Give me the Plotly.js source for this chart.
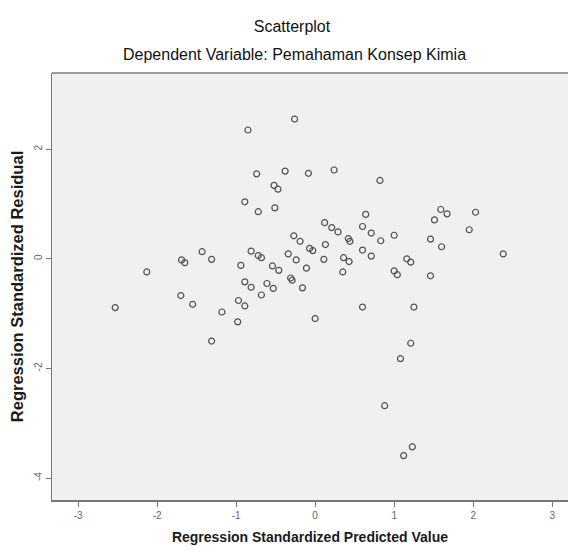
<!DOCTYPE html>
<html>
<head>
<meta charset="utf-8">
<script src="https://cdn.plot.ly/plotly-3.0.1.min.js"></script>
<style>html,body{margin:0;padding:0;background:#fff;}#chart{width:568px;height:552px;}</style>
</head>
<body>
<div id="chart"></div>
<script>
var predicted = [
 -0.26,-0.85,-0.74,-0.38,-0.085,-0.52,-0.47,-0.89,-0.72,-0.51,
 0.24,0.82,0.64,1.59,1.67,2.03,1.51,1.95,2.38,0.12,
 0.21,0.29,0.60,0.71,0.83,1.00,1.46,1.60,0.42,0.44,
 0.13,0.60,0.71,0.11,0.36,0.43,0.35,1.16,1.21,1.00,
 1.04,1.46,0.60,1.25,1.21,1.08,0.88,1.23,1.12,0.00,
 -0.27,-0.19,-0.07,-0.03,-0.81,-0.72,-0.68,-0.34,-0.24,-0.94,
 -0.54,-0.46,-0.11,-0.31,-0.29,-0.89,-0.81,-0.61,-0.53,-0.16,
 -0.68,-0.97,-0.89,-1.43,-1.31,-1.69,-1.65,-2.13,-1.70,-1.55,
 -2.53,-1.18,-0.98,-1.31
];
var residual = [
 2.55,2.35,1.55,1.60,1.56,1.34,1.27,1.04,0.86,0.93,
 1.62,1.43,0.81,0.90,0.82,0.85,0.71,0.53,0.09,0.66,
 0.57,0.49,0.59,0.47,0.33,0.43,0.36,0.22,0.37,0.32,
 0.26,0.16,0.05,-0.01,0.02,-0.05,-0.24,0.00,-0.06,-0.22,
 -0.29,-0.31,-0.88,-0.88,-1.54,-1.82,-2.68,-3.43,-3.59,-1.09,
 0.42,0.32,0.19,0.15,0.14,0.06,0.02,0.09,-0.02,-0.12,
 -0.13,-0.21,-0.17,-0.35,-0.39,-0.42,-0.52,-0.45,-0.54,-0.53,
 -0.66,-0.76,-0.86,0.13,-0.01,-0.02,-0.07,-0.24,-0.67,-0.83,
 -0.89,-0.97,-1.15,-1.50
];
var xTicks = [-3,-2,-1,0,1,2,3];
var yTicks = [-4,-2,0,2];

var trace = {
  x: predicted, y: residual, type: 'scatter', mode: 'markers',
  marker: {symbol: 'circle-open', size: 6, color: '#505050', line: {width: 1.2, color: '#505050'}},
  hoverinfo: 'x+y'
};
var titleFont = {size: 16, color: '#111', family: 'Liberation Sans, Arial, sans-serif'};
var layout = {
  width: 568, height: 552,
  margin: {l: 52, r: 0, t: 73, b: 52},
  paper_bgcolor: '#ffffff', plot_bgcolor: '#f0f0f0',
  showlegend: false,
  font: {family: 'Liberation Sans, Arial, sans-serif', color: '#222'},
  title: {text: 'Scatterplot', x: 0.514, xanchor: 'center', y: 0.952, yanchor: 'middle',
          font: titleFont},
  annotations: [{
    text: 'Dependent Variable: Pemahaman Konsep Kimia', xref: 'paper', yref: 'paper',
    x: 0.469, y: 1.0, xanchor: 'center', yanchor: 'bottom', yshift: 8, showarrow: false,
    font: titleFont
  }],
  shapes: [{type: 'line', xref: 'paper', yref: 'paper', x0: 0, x1: 1, y0: 1, y1: 1,
            line: {color: '#9a9a9a', width: 2}}],
  xaxis: {
    range: [-3.33, 3.2], tickvals: xTicks, ticktext: xTicks.map(String),
    showgrid: false, zeroline: false, showline: true, linecolor: '#777', linewidth: 1.5,
    ticks: 'outside', ticklen: 5, tickcolor: '#777', tickwidth: 1,
    tickfont: {size: 10, color: '#666'},
    title: {text: '<b>Regression Standardized Predicted Value</b>', standoff: 12,
            font: {size: 14, color: '#1a1a1a'}}
  },
  yaxis: {
    range: [-4.40, 3.39], tickvals: yTicks, ticktext: yTicks.map(String),
    showgrid: false, zeroline: false, showline: true, linecolor: '#777', linewidth: 1.5,
    ticks: 'outside', ticklen: 5, tickcolor: '#777', tickwidth: 1,
    tickangle: -90, tickfont: {size: 10, color: '#666'},
    title: {text: '<b>Regression Standardized Residual</b>', standoff: 4,
            font: {size: 16.5, color: '#1a1a1a'}}
  }
};
Plotly.newPlot('chart', [trace], layout, {staticPlot: true, displayModeBar: false});
</script>
</body>
</html>
